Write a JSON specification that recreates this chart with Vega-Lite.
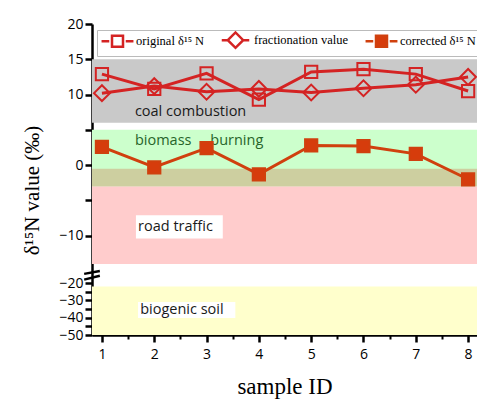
{
  "$schema": "https://vega.github.io/schema/vega-lite/v6.json",
  "width": 385,
  "height": 311,
  "autosize": {"type": "none"},
  "padding": {"left": 92, "top": 24, "right": 0, "bottom": 74},
  "background": "white",
  "resolve": {"axis": {"x": "independent"}},
  "config": {
    "view": {"stroke": null},
    "axis": {"grid": false, "zindex": 1, "domainColor": "black", "domainWidth": 2.5, "tickColor": "black", "tickWidth": 2.5, "tickSize": 7, "tickCount": 50, "labelFont": "Open Sans", "labelFontSize": 14, "labelColor": "black", "labelOverlap": false, "titleFont": "Liberation Serif", "titleFontWeight": "normal", "titleColor": "black"}
  },
  "datasets": {
    "bands": [
      {"band": "coal", "lo": 6, "hi": 15},
      {"band": "road", "lo": -14, "hi": -0.5},
      {"band": "biomass", "lo": -3, "hi": 5},
      {"band": "overlap", "lo": -3, "hi": -0.5},
      {"band": "soil", "lo": -50, "hi": -22}
    ],
    "boxes": [
      {"x": 1.65, "x2": 3.31, "y": -7.1, "y2": -10.4},
      {"x": 1.69, "x2": 3.55, "y": -31.0, "y2": -40.2}
    ],
    "labels": [
      {"text": "coal combustion", "x": 1.63, "y": 7.5},
      {"text": "biomass\u00a0\u00a0\u00a0\u00a0\u00a0burning", "x": 1.63, "y": 3.4},
      {"text": "road traffic", "x": 1.69, "y": -8.8},
      {"text": "biogenic soil", "x": 1.73, "y": -35.6}
    ],
    "breaks": [
      {"x": 0.66, "y": -16.2, "x2": 0.96, "y2": -15.0},
      {"x": 0.66, "y": -18.6, "x2": 0.96, "y2": -17.0}
    ],
    "series": [
      {"id": 1, "series": "original δ¹⁵ N", "value": 12.9},
      {"id": 2, "series": "original δ¹⁵ N", "value": 10.8},
      {"id": 3, "series": "original δ¹⁵ N", "value": 13.0},
      {"id": 4, "series": "original δ¹⁵ N", "value": 9.3},
      {"id": 5, "series": "original δ¹⁵ N", "value": 13.2},
      {"id": 6, "series": "original δ¹⁵ N", "value": 13.6},
      {"id": 7, "series": "original δ¹⁵ N", "value": 12.9},
      {"id": 8, "series": "original δ¹⁵ N", "value": 10.5},
      {"id": 1, "series": "fractionation value", "value": 10.2},
      {"id": 2, "series": "fractionation value", "value": 11.2},
      {"id": 3, "series": "fractionation value", "value": 10.4},
      {"id": 4, "series": "fractionation value", "value": 10.8},
      {"id": 5, "series": "fractionation value", "value": 10.3},
      {"id": 6, "series": "fractionation value", "value": 10.9},
      {"id": 7, "series": "fractionation value", "value": 11.4},
      {"id": 8, "series": "fractionation value", "value": 12.5},
      {"id": 1, "series": "corrected δ¹⁵ N", "value": 2.6},
      {"id": 2, "series": "corrected δ¹⁵ N", "value": -0.3},
      {"id": 3, "series": "corrected δ¹⁵ N", "value": 2.4},
      {"id": 4, "series": "corrected δ¹⁵ N", "value": -1.3},
      {"id": 5, "series": "corrected δ¹⁵ N", "value": 2.8},
      {"id": 6, "series": "corrected δ¹⁵ N", "value": 2.7},
      {"id": 7, "series": "corrected δ¹⁵ N", "value": 1.6},
      {"id": 8, "series": "corrected δ¹⁵ N", "value": -2.0}
    ]
  },
  "layer": [
    {
      "data": {"name": "bands"},
      "mark": {"type": "rect"},
      "encoding": {
        "y": {"field": "hi", "type": "quantitative",
          "scale": {"domain": [-50, -20, -15, 20], "range": [311, 259, 247, 0], "nice": false, "zero": false},
          "axis": {"values": [-50, -45, -40, -35, -30, -25, -20, -10, -5, 0, 5, 10, 15, 20],
            "labelExpr": "indexof([20,15,10,0,-10,-20,-30,-40,-50], datum.value) >= 0 ? datum.label : ''",
            "title": "δ¹⁵N value (‰)", "titleFontSize": 21, "titleX": -50, "titleY": 166}},
        "y2": {"field": "lo"},
        "color": {"field": "band", "type": "nominal", "legend": null,
          "scale": {"domain": ["coal", "road", "biomass", "overlap", "soil"], "range": ["#c9c9c9", "#ffcccc", "#ccffcc", "#cdcfa0", "#ffffcc"]}}
      }
    },
    {
      "data": {"name": "series"},
      "transform": [{"filter": "datum.id > 100"}],
      "mark": {"type": "point", "filled": true, "size": 121, "strokeWidth": 2.5, "opacity": 1},
      "encoding": {
        "x": {"field": "id", "type": "quantitative", "axis": null},
        "y": {"field": "value", "type": "quantitative"},
        "shape": {"field": "series", "type": "nominal",
          "scale": {"domain": ["original δ¹⁵ N", "fractionation value", "corrected δ¹⁵ N"],
            "range": ["M-2.9,0H-1.5M-1,-1H1V1H-1ZM1.5,0H2.9", "M-2.5,0H-1.4M-1.4,0L0,-1.4L1.4,0L0,1.4ZM1.4,0H2.5", "M-2.9,0H-1.5M-1,-1H1V1H-1ZM1.5,0H2.9"]},
          "legend": {"title": null, "orient": "none", "legendX": 5, "legendY": 6, "direction": "horizontal",
            "strokeColor": "#bbbbbb", "fillColor": "white", "padding": 3, "labelFont": "Liberation Serif", "labelFontSize": 12.5, "labelColor": "black",
            "symbolStrokeWidth": 2.5, "symbolSize": 121, "symbolOffset": 10.5, "labelOffset": 11.5, "columnPadding": 11}},
        "fill": {"field": "series", "type": "nominal",
          "scale": {"domain": ["original δ¹⁵ N", "fractionation value", "corrected δ¹⁵ N"], "range": ["white", "white", "#d63c0c"]},
          "legend": {"title": null, "orient": "none", "legendX": 5, "legendY": 6, "direction": "horizontal",
            "strokeColor": "#bbbbbb", "fillColor": "white", "padding": 3, "labelFont": "Liberation Serif", "labelFontSize": 12.5, "labelColor": "black",
            "symbolStrokeWidth": 2.5, "symbolSize": 121, "symbolOffset": 10.5, "labelOffset": 11.5, "columnPadding": 11}},
        "stroke": {"field": "series", "type": "nominal",
          "scale": {"domain": ["original δ¹⁵ N", "fractionation value", "corrected δ¹⁵ N"], "range": ["#d42323", "#d42323", "#d0400e"]},
          "legend": {"title": null, "orient": "none", "legendX": 5, "legendY": 6, "direction": "horizontal",
            "strokeColor": "#bbbbbb", "fillColor": "white", "padding": 3, "labelFont": "Liberation Serif", "labelFontSize": 12.5, "labelColor": "black",
            "symbolStrokeWidth": 2.5, "symbolSize": 121, "symbolOffset": 10.5, "labelOffset": 11.5, "columnPadding": 11}}
      }
    },
    {
      "data": {"name": "boxes"},
      "mark": {"type": "rect", "fill": "white"},
      "encoding": {
        "x": {"field": "x", "type": "quantitative", "axis": null},
        "x2": {"field": "x2"},
        "y": {"field": "y", "type": "quantitative"},
        "y2": {"field": "y2"}
      }
    },
    {
      "data": {"name": "labels"},
      "mark": {"type": "text", "align": "left", "baseline": "middle", "font": "Open Sans", "fontSize": 14.5},
      "encoding": {
        "x": {"field": "x", "type": "quantitative", "axis": null},
        "y": {"field": "y", "type": "quantitative"},
        "text": {"field": "text"},
        "color": {"condition": {"test": "indexof(datum.text, 'biomass') >= 0", "value": "#27652a"}, "value": "#1a1a1a"}
      }
    },
    {
      "data": {"name": "breaks"},
      "mark": {"type": "rule", "color": "black", "strokeWidth": 2.5},
      "encoding": {
        "x": {"field": "x", "type": "quantitative",
          "axis": {"orient": "bottom", "values": [1.5, 2.5, 3.5, 4.5, 5.5, 6.5, 7.5], "labels": false, "domain": false, "tickSize": 4, "tickWidth": 2, "title": null}},
        "x2": {"field": "x2"},
        "y": {"field": "y", "type": "quantitative"},
        "y2": {"field": "y2"}
      }
    },
    {
      "data": {"name": "series"},
      "mark": {"type": "line", "strokeWidth": 3},
      "encoding": {
        "x": {"field": "id", "type": "quantitative",
          "scale": {"domain": [0.81, 8.17], "nice": false, "zero": false},
          "axis": {"orient": "bottom", "values": [1, 2, 3, 4, 5, 6, 7, 8], "format": "d", "labelPadding": 5, "title": "sample ID", "titleFontSize": 23, "titlePadding": 14}},
        "y": {"field": "value", "type": "quantitative"},
        "detail": {"field": "series"},
        "stroke": {"condition": {"test": "datum.series === 'corrected δ¹⁵ N'", "value": "#d0400e"}, "value": "#d42323"}
      }
    },
    {
      "data": {"name": "series"},
      "transform": [{"filter": "datum.series !== 'fractionation value'"}],
      "mark": {"type": "point", "shape": "square", "size": 150, "strokeWidth": 2, "opacity": 1},
      "encoding": {
        "x": {"field": "id", "type": "quantitative", "axis": null},
        "y": {"field": "value", "type": "quantitative"},
        "fill": {"condition": {"test": "datum.series === 'corrected δ¹⁵ N'", "value": "#d63c0c"}, "value": "transparent"},
        "stroke": {"condition": {"test": "datum.series === 'corrected δ¹⁵ N'", "value": "#d0400e"}, "value": "#d42323"}
      }
    },
    {
      "data": {"name": "series"},
      "transform": [{"filter": "datum.series === 'fractionation value'"}],
      "mark": {"type": "point", "shape": "diamond", "size": 250, "strokeWidth": 2, "opacity": 1, "fill": "transparent", "stroke": "#d42323"},
      "encoding": {
        "x": {"field": "id", "type": "quantitative", "axis": null},
        "y": {"field": "value", "type": "quantitative"}
      }
    }
  ]
}
